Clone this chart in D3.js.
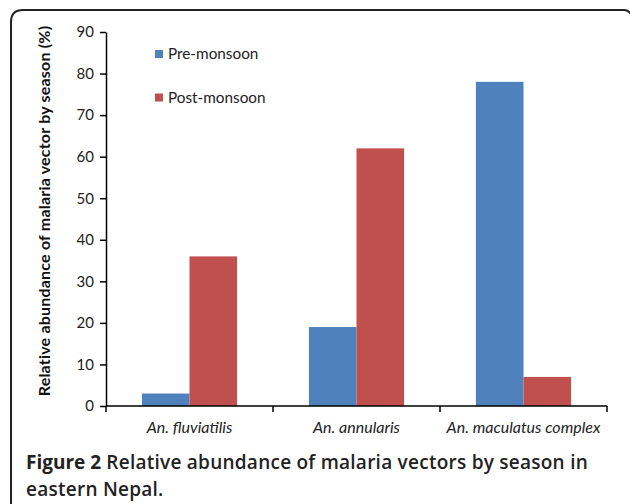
<!DOCTYPE html>
<html>
<head>
<meta charset="utf-8">
<script src="https://cdn.jsdelivr.net/npm/d3@7"></script>
<style>
  body { margin: 0; background: #fff; }
  svg { display: block; }
</style>
</head>
<body>
<svg id="chart" width="630" height="504"></svg>
<script>
const categories = ['An. fluviatilis', 'An. annularis', 'An. maculatus complex'];
const seriesNames = ['Pre-monsoon', 'Post-monsoon'];
const preMonsoon = [3, 19, 78];
const postMonsoon = [36, 62, 7];
const yTicks = [0, 10, 20, 30, 40, 50, 60, 70, 80, 90];
const colors = ['#4f81bd', '#c0504d'];

const svg = d3.select('#chart');
const font = 'Lato, "Open Sans", sans-serif';

// frame, rounded at the top-left, runs off the page right and bottom
svg.append('path')
  .attr('d', 'M11,510 L11,22 Q11,10 23,10 L624,10 Q629,10 632,16')
  .attr('fill', 'none')
  .attr('stroke', '#222')
  .attr('stroke-width', 2);

const plot = {left: 106, right: 607, top: 32, bottom: 406};

const x = d3.scaleBand()
  .domain(categories)
  .range([plot.left, plot.right])
  .paddingInner(0.43)
  .paddingOuter(0.215);

const xSub = d3.scaleBand()
  .domain(seriesNames)
  .range([0, x.bandwidth()]);

const y = d3.scaleLinear()
  .domain([0, 90])
  .range([plot.bottom, plot.top]);

const rows = categories.map((c, i) => ({cat: c, vals: [preMonsoon[i], postMonsoon[i]]}));

svg.append('g')
  .selectAll('g')
  .data(rows)
  .join('g')
  .attr('transform', d => `translate(${x(d.cat)},0)`)
  .selectAll('rect')
  .data(d => d.vals.map((v, j) => ({name: seriesNames[j], v, j})))
  .join('rect')
  .attr('x', d => xSub(d.name))
  .attr('y', d => y(d.v))
  .attr('width', xSub.bandwidth())
  .attr('height', d => y(0) - y(d.v))
  .attr('fill', d => colors[d.j]);

// y axis
const yAxis = svg.append('g')
  .attr('transform', `translate(${plot.left},0)`)
  .call(d3.axisLeft(y).tickValues(yTicks).tickSize(6).tickPadding(6).tickSizeOuter(0));
yAxis.select('.domain').attr('stroke', '#000').attr('stroke-width', 1.5);
yAxis.selectAll('.tick line').attr('stroke', '#000').attr('stroke-width', 1.5);
yAxis.selectAll('.tick text')
  .attr('font-family', font).attr('font-size', 15).attr('fill', '#222');

// x axis: ticks at category boundaries
const step = x.step();
const bounds = d3.range(categories.length + 1).map(i => plot.left + i * step);
svg.append('line')
  .attr('x1', plot.left).attr('x2', plot.right)
  .attr('y1', plot.bottom).attr('y2', plot.bottom)
  .attr('stroke', '#000').attr('stroke-width', 1.5);
svg.append('g').selectAll('line')
  .data(bounds)
  .join('line')
  .attr('x1', d => d).attr('x2', d => d)
  .attr('y1', plot.bottom).attr('y2', plot.bottom + 6)
  .attr('stroke', '#000').attr('stroke-width', 1.5);
svg.append('g').selectAll('text')
  .data(categories)
  .join('text')
  .attr('x', d => x(d) + x.bandwidth() / 2)
  .attr('y', 433)
  .attr('text-anchor', 'middle')
  .attr('font-family', font)
  .attr('font-style', 'italic')
  .attr('font-size', 16)
  .attr('fill', '#222')
  .text(d => d);

// y axis title
svg.append('text')
  .attr('transform', 'translate(50,211) rotate(-90)')
  .attr('text-anchor', 'middle')
  .attr('font-family', font)
  .attr('font-weight', 'bold')
  .attr('font-size', 16)
  .attr('letter-spacing', 0.2)
  .attr('fill', '#111')
  .text('Relative abundance of malaria vector by season (%)');

// legend
const legend = svg.append('g').selectAll('g')
  .data(seriesNames)
  .join('g')
  .attr('transform', (d, i) => `translate(155,${50 + i * 43.5})`);
legend.append('rect')
  .attr('width', 8).attr('height', 8)
  .attr('fill', (d, i) => colors[i]);
legend.append('text')
  .attr('x', 13).attr('y', 9)
  .attr('font-family', font).attr('font-size', 15.3).attr('fill', '#222')
  .text(d => d);

// caption
const cap = svg.append('text')
  .attr('font-family', '"Open Sans", sans-serif')
  .attr('font-size', 19)
  .attr('fill', '#222');
cap.append('tspan').attr('x', 26).attr('y', 469).attr('font-weight', 'bold').text('Figure 2');
cap.append('tspan').attr('font-weight', 600).attr('letter-spacing', 0.25)
  .text(' Relative abundance of malaria vectors by season in');
cap.append('tspan').attr('x', 26).attr('y', 496).attr('font-weight', 600).attr('letter-spacing', 0.25)
  .text('eastern Nepal.');
</script>
</body>
</html>
